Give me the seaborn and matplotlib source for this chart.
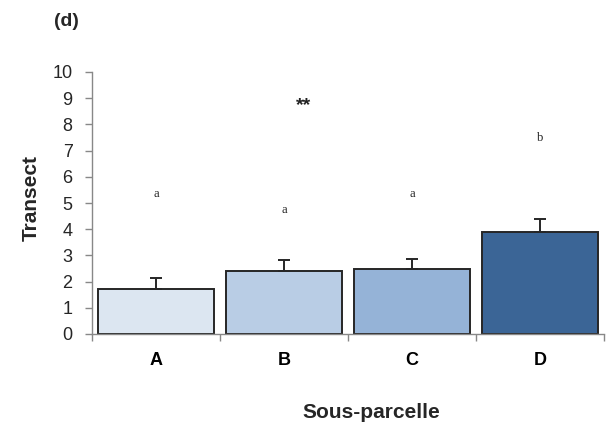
import matplotlib
matplotlib.use("Agg")
import matplotlib.pyplot as plt
import seaborn as sns
import pandas as pd
import numpy as np

categories = ["A", "B", "C", "D"]
means = [1.72, 2.40, 2.48, 3.90]
errors = [0.42, 0.42, 0.38, 0.48]
letters = ["a", "a", "a", "b"]
letter_y = [5.34, 4.73, 5.34, 7.48]
colors = ["#dce6f1", "#b9cde5", "#95b3d7", "#3b6596"]

sns.set_theme(style="white")
plt.rcParams['font.family'] = ['Liberation Sans', 'DejaVu Sans']

fig = plt.figure(figsize=(6.06, 4.24), dpi=100)
ax = fig.add_axes([92/606, 1-334/424, 512/606, (334-72)/424])

df = pd.DataFrame({"cat": categories, "val": means})
sns.barplot(data=df, x="cat", y="val", hue="cat", palette=colors, legend=False,
            saturation=1, width=0.9, edgecolor="#262626", linewidth=1.4, ax=ax, errorbar=None)

x = np.arange(len(categories))
ax.errorbar(x, means, yerr=[np.zeros(len(means)), errors], fmt="none",
            ecolor="#262626", elinewidth=1.4, capsize=4, capthick=1.4)

for xi, t, yy in zip(x, letters, letter_y):
    ax.text(xi, yy, t, ha="center", va="center", fontsize=9, family="Liberation Serif", color="#222222")
ax.text(1.15, 8.72, "**", ha="center", va="center", fontsize=14, fontweight="bold", color="#222222")

ax.set_xlim(-0.5, 3.5)
ax.set_ylim(0, 10)
ax.set_yticks(range(0, 11))
ax.set_yticklabels([str(i) for i in range(0, 11)], fontsize=13)
ax.set_xticks(x)
ax.set_xticklabels(categories, fontsize=13, fontweight="bold")
ax.set_xticks([-0.5, 0.5, 1.5, 2.5, 3.5], minor=True)
ax.tick_params(axis="x", which="major", length=0, pad=13, colors="black")
ax.tick_params(axis="x", which="minor", length=5, width=1, color="#888888", direction="out", bottom=True)
ax.tick_params(axis="y", length=5, width=1, color="#888888", direction="out", left=True, pad=9)

for s in ["top", "right"]:
    ax.spines[s].set_visible(False)
for s in ["left", "bottom"]:
    ax.spines[s].set_color("#888888")
    ax.spines[s].set_linewidth(1)

ax.set_xlabel("")
ax.set_ylabel("")
fig.text(31/606, 1-198/424, "Transect", rotation=90, ha="center", va="center", fontsize=15, fontweight="bold")
fig.text(371/606, 1-412/424, "Sous-parcelle", ha="center", va="center", fontsize=15, fontweight="bold")
fig.text(66/606, 1-21/424, "(d)", ha="center", va="center", fontsize=14, fontweight="bold")

fig.savefig("out.png", dpi=100)
